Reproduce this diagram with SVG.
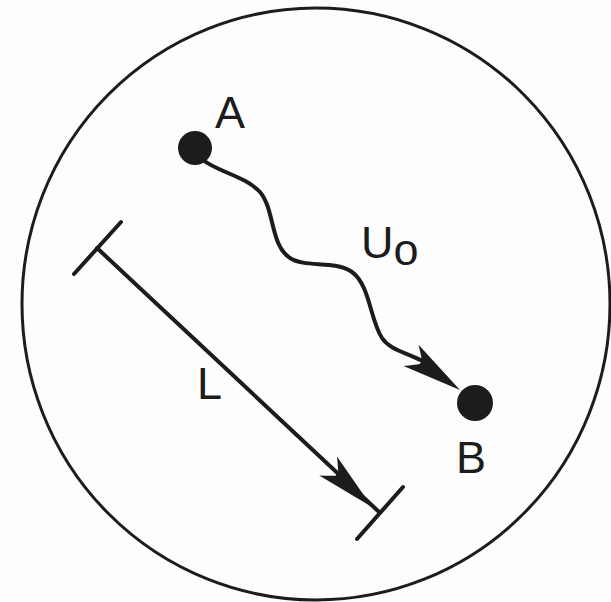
<svg xmlns="http://www.w3.org/2000/svg" xmlns:xlink="http://www.w3.org/1999/xlink" width="611" height="602" viewBox="0 0 611 602">
<style>
.ln{fill:none;stroke:#1c1c1c;stroke-width:4;stroke-linecap:round;stroke-linejoin:round}
.lbl{font-family:"Liberation Sans",Arial,sans-serif;font-size:45px;fill:#1c1c1c}
.dot{fill:#1c1c1c}
</style>
<defs>
<path id="head" d="M0,0 L-60,-13 Q-52,-6 -48,-2 L-48,2 Q-52,6 -60,13 Z" fill="#1c1c1c"/>
</defs>
<rect width="611" height="602" fill="#fdfdfd"/>
<g id="boundary">
<ellipse cx="316" cy="304" rx="294" ry="296" fill="none" stroke="#1c1c1c" stroke-width="3"/>
</g>
<g id="connectors">
<path class="ln" d="M203,160 C218,172 245,176 260,192 C275,210 270,245 290,258 C305,268 335,260 352,272 C370,285 370,320 382,338 C390,350 405,352 425,362"/>
<use xlink:href="#head" transform="translate(460,390) rotate(35.3)"/>
<line class="ln" x1="97" y1="248" x2="378" y2="511"/>
<line class="ln" x1="74" y1="274" x2="121" y2="222"/>
<line class="ln" x1="357" y1="539" x2="403" y2="487"/>
<use xlink:href="#head" transform="translate(372,507) rotate(43)"/>
</g>
<g id="nodeA">
<circle class="dot" cx="195" cy="148" r="17"/>
<text class="lbl" x="230" y="128" text-anchor="middle">A</text>
</g>
<g id="nodeB">
<circle class="dot" cx="475" cy="403" r="18"/>
<text class="lbl" x="471" y="473" text-anchor="middle">B</text>
</g>
<g id="labelU">
<text class="lbl" x="361" y="258">U<tspan dy="7">o</tspan></text>
</g>
<g id="labelL">
<text class="lbl" x="197" y="399">L</text>
</g>
</svg>
